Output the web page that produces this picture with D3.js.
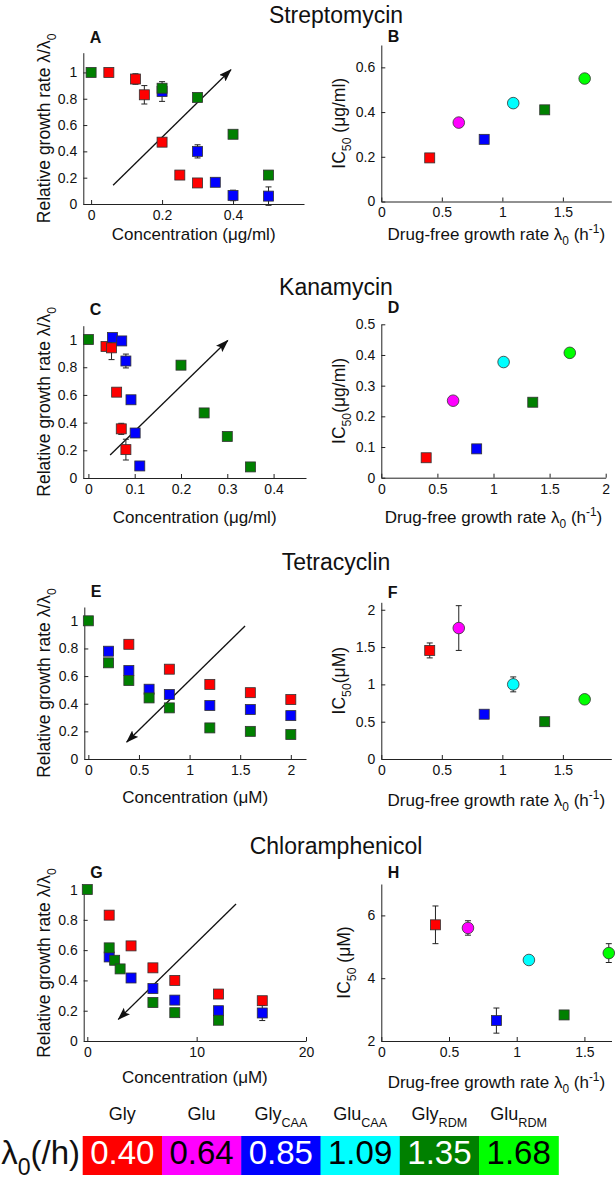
<!DOCTYPE html>
<html><head><meta charset="utf-8">
<script src="https://cdn.jsdelivr.net/npm/d3@7"></script>
<style>body{margin:0;background:#fff}text{font-family:"Liberation Sans",Arial,sans-serif;fill:#111}</style>
</head><body><svg id="c" width="616" height="1184"></svg>
<script>
// ---------- data ----------
const conditions = ["Gly","Glu","Gly","Glu","Gly","Glu"];
const conditionSubs = ["","","CAA","CAA","RDM","RDM"];
const lambda0 = [0.40,0.64,0.85,1.09,1.35,1.68];
const drugs = ["Streptomycin","Kanamycin","Tetracyclin","Chloramphenicol"];
const lettersLeft = ["A","C","E","G"];
const lettersRight = ["B","D","F","H"];

// [concentration, relative growth rate, error]
const strepGly    = [[0.05,1.0,0],[0.125,0.95,0.04],[0.15,0.83,0.07],[0.2,0.47,0],[0.25,0.22,0],[0.3,0.16,0]];
const strepGlyCAA = [[0.2,0.855,0.075],[0.3,0.40,0.05],[0.35,0.165,0.03],[0.4,0.065,0.04],[0.5,0.06,0.07]];
const strepGlyRDM = [[0,1.0,0],[0.2,0.88,0],[0.3,0.81,0],[0.4,0.53,0],[0.5,0.22,0]];

const kanaGly     = [[0.038,0.95,0],[0.05,0.94,0.085],[0.061,0.62,0],[0.071,0.355,0.04],[0.081,0.205,0.075]];
const kanaGlyCAA  = [[0.052,1.015,0],[0.072,0.99,0],[0.081,0.845,0.05],[0.092,0.565,0],[0.101,0.325,0],[0.111,0.087,0]];
const kanaGlyRDM  = [[0,1.0,0],[0.2,0.815,0],[0.25,0.47,0],[0.3,0.30,0],[0.35,0.08,0]];

const tetGly      = [[0.4,0.83,0],[0.8,0.65,0],[1.2,0.54,0],[1.6,0.48,0],[2.0,0.43,0]];
const tetGlyCAA   = [[0.2,0.78,0],[0.4,0.64,0],[0.6,0.505,0],[0.8,0.467,0],[1.2,0.387,0],[1.6,0.358,0],[2.0,0.314,0]];
const tetGlyRDM   = [[0,1.0,0],[0.2,0.696,0],[0.4,0.568,0],[0.6,0.442,0],[0.8,0.37,0],[1.2,0.225,0],[1.6,0.20,0],[2.0,0.177,0]];

const chlGly      = [[2,0.831,0],[4,0.628,0],[6,0.483,0],[8,0.40,0],[12,0.31,0],[16,0.266,0]];
const chlGlyCAA   = [[2,0.555,0],[4,0.416,0],[6,0.346,0],[8,0.27,0],[12,0.20,0],[16,0.185,0.05]];
const chlGlyRDM   = [[0,1.0,0],[2,0.615,0],[2.5,0.533,0],[3,0.476,0],[6,0.254,0],[8,0.187,0],[12,0.137,0]];

// IC50 per condition (order of lambda0)
const strepIC50 = [0.195,0.353,0.278,0.44,0.41,0.55];
const strepIC50Err = [0,0,0,0,0,0];
const kanaIC50 = [0.065,0.251,0.094,0.377,0.246,0.407];
const kanaIC50Err = [0,0,0,0,0,0];
const tetIC50 = [1.455,1.755,0.60,1.0,0.50,0.80];
const tetIC50Err = [0.1,0.3,0,0.1,0,0];
const chlIC50 = [5.7,5.6,2.65,4.58,2.83,4.8];
const chlIC50Err = [0.6,0.23,0.4,0,0.12,0.3];

// arrows [from, to] in data units
const strepArrow = [[0.062,0.143],[0.394,1.02]];
const kanaArrow  = [[0.047,0.166],[0.301,0.993]];
const tetArrow   = [[1.548,0.962],[0.379,0.123]];
const chlArrow   = [[13.6,0.905],[2.84,0.143]];

// tick values
const ticksAx = [0,0.2,0.4], ticksAy = [0,0.2,0.4,0.6,0.8,1];
const ticksBx = [0,0.5,1,1.5], ticksBy = [0,0.2,0.4,0.6];
const ticksCx = [0,0.1,0.2,0.3,0.4], ticksCy = [0,0.2,0.4,0.6,0.8,1];
const ticksDx = [0,0.5,1,1.5,2], ticksDy = [0,0.1,0.2,0.3,0.4,0.5];
const ticksEx = [0,0.5,1,1.5,2], ticksEy = [0,0.2,0.4,0.6,0.8,1];
const ticksFx = [0,0.5,1,1.5], ticksFy = [0,0.5,1,1.5,2];
const ticksGx = [0,10,20], ticksGy = [0,0.2,0.4,0.6,0.8,1];
const ticksHx = [0,0.5,1,1.5], ticksHy = [2,4,6];

// ---------- styles / layout ----------
const condColors = ["#ff0000","#ff00ff","#0000ff","#00ffff","#008000","#00ff00"];
const condText = ["#fff","#000","#fff","#000","#fff","#000"];
const FONT = 17, YFONT = 17.5, TICKF = 14;

const layoutLeft = [
  {x0:83.3,x1:304,y0:204,y1:52.7, xd:[-0.022,0.6], yd:[0,1.15], xl:240, ly:43, ylx:50},
  {x0:83.3,x1:306,y0:478,y1:325.7, xd:[-0.011,0.47], yd:[0,1.1], xl:523, ly:315, ylx:50},
  {x0:84.3,x1:306,y0:759,y1:607, xd:[-0.04,2.15], yd:[0,1.1], xl:803, ly:597, ylx:50},
  {x0:83.7,x1:306,y0:1041,y1:885, xd:[-0.33,20], yd:[0,1.03], xl:1083, ly:878, ylx:50}
];
const layoutRight = [
  {x0:381.3,x1:611.3,y0:201.5,y1:45, xd:[0,1.9], yd:[0,0.7], xl:240, ly:42, ylx:345},
  {x0:381.3,x1:605.7,y0:477.7,y1:324.3, xd:[0,2], yd:[0,0.5], xl:523, ly:313, ylx:345},
  {x0:381.3,x1:611.3,y0:759,y1:602.3, xd:[0,1.9], yd:[0,2.1], xl:806, ly:598, ylx:345},
  {x0:381.3,x1:611.5,y0:1041,y1:884, xd:[0,1.7], yd:[2,7], xl:1088, ly:878, ylx:350}
];
const titleY = [22.7, 295, 570, 854];

const svg = d3.select("#c");
svg.append("defs").append("marker")
  .attr("id","ah").attr("markerUnits","userSpaceOnUse")
  .attr("markerWidth",14).attr("markerHeight",10)
  .attr("refX",12).attr("refY",4.5).attr("orient","auto")
  .append("path").attr("d","M0,0 L13,4.5 L0,9 L2.5,4.5 Z").attr("fill","#111");

function richText(g, parts, size, subShift) {
  const t = g.append("text").attr("font-size", size);
  let shift = 0;
  const ss = subShift || 0.32;
  parts.forEach(([s,k]) => {
    const target = k === "sub" ? size*ss : (k === "sup" ? -size*0.42 : 0);
    t.append("tspan").attr("dy", target - shift)
      .attr("font-size", k === "n" ? size : size*0.7).text(s);
    shift = target;
  });
  return t;
}

function drawPanel(L, xt, yt, series, arrow, xLabel, yLabel, letter) {
  const x = d3.scaleLinear().domain(L.xd).range([L.x0, L.x1]);
  const y = d3.scaleLinear().domain(L.yd).range([L.y0, L.y1]);
  const g = svg.append("g");
  const fmt = d => String(d);
  const ax = g.append("g").attr("transform",`translate(0,${L.y0})`)
    .call(d3.axisBottom(x).tickValues(xt).tickSize(-4).tickSizeOuter(0).tickPadding(6).tickFormat(fmt));
  const ay = g.append("g").attr("transform",`translate(${L.x0},0)`)
    .call(d3.axisLeft(y).tickValues(yt).tickSize(-4).tickSizeOuter(0).tickPadding(6).tickFormat(fmt));
  [ax, ay].forEach(a => {
    a.selectAll("path,line").attr("stroke","#222").attr("stroke-width",1);
    a.selectAll("text").attr("font-size",TICKF).attr("fill","#111")
      .style("font-family",'"Liberation Sans",Arial,sans-serif');
  });
  if (arrow) {
    g.append("line")
      .attr("x1",x(arrow[0][0])).attr("y1",y(arrow[0][1]))
      .attr("x2",x(arrow[1][0])).attr("y2",y(arrow[1][1]))
      .attr("stroke","#111").attr("stroke-width",1.3).attr("marker-end","url(#ah)");
  }
  series.forEach(s => {
    const pts = s.pts.filter(p => p[2] > 0);
    const eb = g.append("g").attr("stroke","#222").attr("stroke-width",1);
    pts.forEach(p => {
      const xx = x(p[0]), ya = y(p[1]-p[2]), yb = y(p[1]+p[2]);
      eb.append("line").attr("x1",xx).attr("x2",xx).attr("y1",ya).attr("y2",yb);
      eb.append("line").attr("x1",xx-3).attr("x2",xx+3).attr("y1",ya).attr("y2",ya);
      eb.append("line").attr("x1",xx-3).attr("x2",xx+3).attr("y1",yb).attr("y2",yb);
    });
  });
  series.forEach(s => {
    s.pts.forEach(p => {
      if (s.shape === "circle") {
        g.append("circle").attr("cx",x(p[0])).attr("cy",y(p[1])).attr("r",5.8)
          .attr("fill",s.color).attr("stroke","#333").attr("stroke-width",0.8);
      } else {
        g.append("rect").attr("x",x(p[0])-5).attr("y",y(p[1])-5).attr("width",10).attr("height",10)
          .attr("fill",s.color).attr("stroke","#333").attr("stroke-width",0.8);
      }
    });
  });
  richText(g, xLabel, FONT).attr("text-anchor","middle")
    .attr("transform",`translate(${(L.x0+L.x1)/2},${L.xl})`);
  richText(g, yLabel, YFONT).attr("text-anchor","middle")
    .attr("transform",`translate(${L.ylx},${(L.y0+L.y1)/2}) rotate(-90)`);
  g.append("text").attr("x", L.x0 + 6.5).attr("y", L.ly).attr("font-size",16)
    .attr("font-weight","bold").text(letter);
}

const leftSeries = [
  [strepGly, strepGlyCAA, strepGlyRDM],
  [kanaGly, kanaGlyCAA, kanaGlyRDM],
  [tetGly, tetGlyCAA, tetGlyRDM],
  [chlGly, chlGlyCAA, chlGlyRDM]
];
const leftTicks = [[ticksAx,ticksAy],[ticksCx,ticksCy],[ticksEx,ticksEy],[ticksGx,ticksGy]];
const rightTicks = [[ticksBx,ticksBy],[ticksDx,ticksDy],[ticksFx,ticksFy],[ticksHx,ticksHy]];
const arrows = [strepArrow, kanaArrow, tetArrow, chlArrow];
const ic50 = [[strepIC50,strepIC50Err],[kanaIC50,kanaIC50Err],[tetIC50,tetIC50Err],[chlIC50,chlIC50Err]];
const concUnits = ["μg/ml","μg/ml","μM","μM"];
const icLabels = [
  [["IC","n"],["50","sub"],[" (μg/ml)","n"]],
  [["IC","n"],["50","sub"],["(μg/ml)","n"]],
  [["IC","n"],["50","sub"],["(μM)","n"]],
  [["IC","n"],["50","sub"],[" (μM)","n"]]
];
const relLabel = [["Relative growth rate λ/λ","n"],["0","sub"]];
const dfLabel = [["Drug-free growth rate λ","n"],["0","sub"],[" (h","n"],["-1","sup"],[")","n"]];

for (let i = 0; i < 4; i++) {
  svg.append("text").attr("x",336).attr("y",titleY[i]).attr("font-size",23)
    .attr("text-anchor","middle").text(drugs[i]);
  const ls = leftSeries[i];
  drawPanel(layoutLeft[i], leftTicks[i][0], leftTicks[i][1],
    [{pts:ls[0],color:condColors[0]},{pts:ls[1],color:condColors[2]},{pts:ls[2],color:condColors[4]}],
    arrows[i], [[`Concentration (${concUnits[i]})`,"n"]], relLabel, lettersLeft[i]);
  const rs = lambda0.map((l,j) => ({pts:[[l, ic50[i][0][j], ic50[i][1][j]]], color:condColors[j],
    shape: j % 2 ? "circle" : "square"}));
  drawPanel(layoutRight[i], rightTicks[i][0], rightTicks[i][1], rs, null, dfLabel, icLabels[i], lettersRight[i]);
}

// ---------- legend ----------
const band = d3.scaleBand().domain(d3.range(lambda0.length)).range([82.7, 558.3]).padding(0);
const lg = svg.append("g");
lambda0.forEach((v,j) => {
  lg.append("rect").attr("x",band(j)).attr("y",1136).attr("width",band.bandwidth()+0.5).attr("height",39)
    .attr("fill",condColors[j]);
  lg.append("text").attr("x",band(j)+band.bandwidth()/2).attr("y",1164).attr("font-size",33)
    .attr("text-anchor","middle").style("fill",condText[j]).text(d3.format(".2f")(v));
  richText(lg, conditionSubs[j] ? [[conditions[j],"n"],[conditionSubs[j],"sub"]] : [[conditions[j],"n"]], 18, 0.4)
    .attr("text-anchor","middle")
    .attr("transform",`translate(${band(j)+band.bandwidth()/2},1120)`);
});
richText(lg, [["λ","n"],["0","sub"],["(/h)","n"]], 33).attr("text-anchor","end")
  .attr("transform","translate(80,1164)");
</script></body></html>
